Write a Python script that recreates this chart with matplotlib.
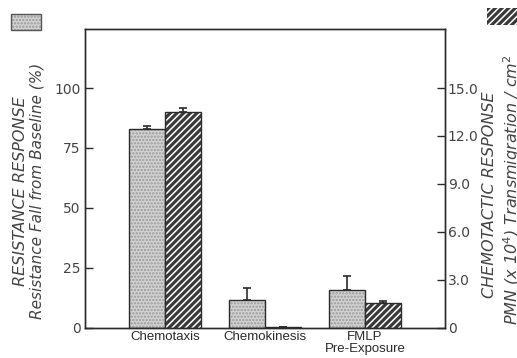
import matplotlib
matplotlib.use('Agg')
import matplotlib.pyplot as plt
from matplotlib.patches import Rectangle
import numpy as np

# values
categories = ['Chemotaxis', 'Chemokinesis', 'FMLP\nPre-Exposure']
resistance = [83.0, 11.7, 15.8]          # % fall from baseline (left axis)
resistance_err = [1.3, 5.0, 5.9]
chemotactic = [13.5, 0.06, 1.55]         # PMN x10^4 / cm2 (right axis)
chemotactic_err = [0.25, 0.0, 0.15]
left_ticks = [0, 25, 50, 75, 100]
right_ticks = [0, 3, 6, 9, 12, 15]
right_tick_labels = ['0', '3.0', '6.0', '9.0', '12.0', '15.0']

plt.rcParams['hatch.linewidth'] = 1.1
ink = '#2b2b2b'
stip_face = '#d2d2d2'
hatch_face = '#3a3a3a'

fig = plt.figure(figsize=(5.17, 3.58), dpi=100)
ax = fig.add_axes([0.164, 0.084, 0.697, 0.835])
ax2 = ax.twinx()

x = np.arange(len(categories))
w = 0.36

# stippled bars (resistance)
ax.bar(x - w / 2, resistance, w, color=stip_face, edgecolor='#999999',
       hatch='.....', linewidth=0)
ax.bar(x - w / 2, resistance, w, fill=False, edgecolor=ink, linewidth=1.0)
ax.errorbar(x - w / 2, resistance, yerr=[np.zeros(len(x)), resistance_err],
            fmt='none', ecolor=ink, elinewidth=1.2, capsize=3, capthick=1.2)

# hatched bars (chemotactic)
ax2.bar(x + w / 2, chemotactic, w, color=hatch_face, edgecolor='white',
        hatch='/////', linewidth=0)
ax2.bar(x + w / 2, chemotactic, w, fill=False, edgecolor=ink, linewidth=1.0)
ax2.errorbar(x + w / 2, chemotactic, yerr=[np.zeros(len(x)), chemotactic_err],
             fmt='none', ecolor=ink, elinewidth=1.2, capsize=3, capthick=1.2)

ax.set_xlim(-0.8, 2.8)
ax.set_ylim(0, 124.6)
ax2.set_ylim(0, 124.6 * 0.15)

ax.set_yticks(left_ticks)
ax.set_yticklabels([str(t) for t in left_ticks], fontsize=10, color='#444444')
ax.tick_params(axis='y', direction='in', length=6, width=1, color=ink, pad=3)
ax2.set_yticks(right_ticks)
ax2.set_yticklabels(right_tick_labels, fontsize=10, color='#444444')
ax2.tick_params(axis='y', direction='in', length=6, width=1, color=ink, pad=2)

ax.set_xticks(x)
ax.set_xticklabels(categories, fontsize=9.5, color=ink,
                   family=['Liberation Sans', 'DejaVu Sans'],
                   linespacing=1.0)
ax.tick_params(axis='x', length=0, pad=2)

for a in (ax, ax2):
    for s in a.spines.values():
        s.set_color(ink)
        s.set_linewidth(1.0)

# axis titles
fig.text(0.039, 0.467, 'RESISTANCE RESPONSE', rotation=90, style='italic',
         fontsize=11.5, color='#444444', ha='center', va='center')
fig.text(0.071, 0.467, 'Resistance Fall from Baseline (%)', rotation=90,
         style='italic', fontsize=11, color='#444444', ha='center', va='center')
fig.text(0.947, 0.455, 'CHEMOTACTIC RESPONSE', rotation=90, style='italic',
         fontsize=11.5, color='#444444', ha='center', va='center')
fig.text(0.99, 0.47, r'PMN (x 10$^4$) Transmigration / cm$^2$', rotation=90,
         style='italic', fontsize=11.5, color='#444444', ha='center', va='center')

# legend swatches in the corners
fig.add_artist(Rectangle((0.021, 0.916), 0.058, 0.045, transform=fig.transFigure,
                         facecolor=stip_face, edgecolor='#999999', hatch='.....',
                         linewidth=0))
fig.add_artist(Rectangle((0.021, 0.916), 0.058, 0.045, transform=fig.transFigure,
                         fill=False, edgecolor='#555555', linewidth=1.0))
fig.add_artist(Rectangle((0.942, 0.930), 0.07, 0.047, transform=fig.transFigure,
                         facecolor=hatch_face, edgecolor='white', hatch='/////',
                         linewidth=0))

fig.savefig('out.png', dpi=100)
